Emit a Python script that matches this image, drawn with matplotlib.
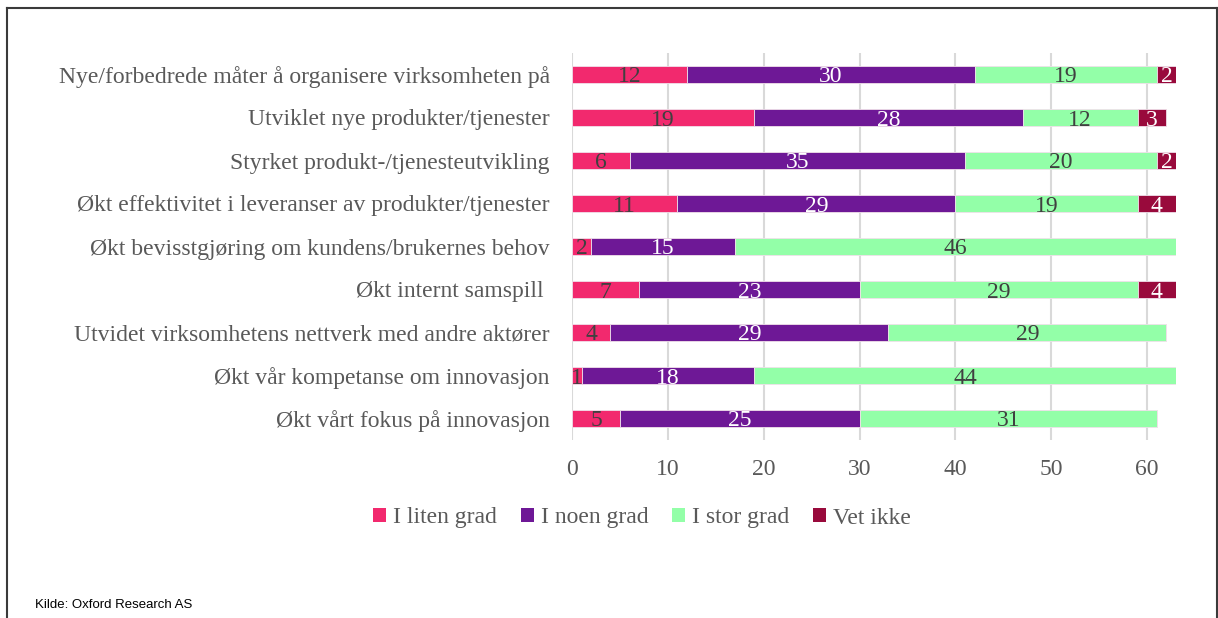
import numpy as np
import matplotlib.pyplot as plt
from matplotlib.patches import Patch
from matplotlib.lines import Line2D

categories = [
    "Nye/forbedrede måter å organisere virksomheten på",
    "Utviklet nye produkter/tjenester",
    "Styrket produkt-/tjenesteutvikling",
    "Økt effektivitet i leveranser av produkter/tjenester",
    "Økt bevisstgjøring om kundens/brukernes behov",
    "Økt internt samspill ",
    "Utvidet virksomhetens nettverk med andre aktører",
    "Økt vår kompetanse om innovasjon",
    "Økt vårt fokus på innovasjon",
]
liten = [12, 19, 6, 11, 2, 7, 4, 1, 5]
noen = [30, 28, 35, 29, 15, 23, 29, 18, 25]
stor = [19, 12, 20, 19, 46, 29, 29, 44, 31]
vet_ikke = [2, 3, 2, 4, 0, 4, 0, 0, 0]

series = [
    ("I liten grad", liten, "#F2296E", "#404040"),
    ("I noen grad", noen, "#6E1896", "white"),
    ("I stor grad", stor, "#93FFA8", "#404040"),
    ("Vet ikke", vet_ikke, "#990A3C", "white"),
]

plt.rcParams['font.family'] = ['Liberation Serif', 'DejaVu Serif']
TXT = "#595959"
FS = 17

fig = plt.figure(figsize=(12.18, 6.18), dpi=100)
ax = fig.add_axes([572 / 1218, 1 - 440 / 618, (1176 - 572) / 1218, 387 / 618])

y = np.arange(len(categories))
left = np.zeros(len(categories))
handles = []
for name, vals, color, tcolor in series:
    vals = np.array(vals, dtype=float)
    bars = ax.barh(y, vals, left=left, height=0.4, color=color,
                   edgecolor="#f0e0ea", linewidth=0.6)
    labels = [str(int(v)) if v > 0 else "" for v in vals]
    texts = ax.bar_label(bars, labels=labels, label_type="center", color=tcolor, fontsize=FS)
    for t in texts:
        t.set_va("center_baseline")
    left += vals
    handles.append(Patch(facecolor=color, label=name))

ax.set_xlim(0, 63)
ax.set_ylim(len(categories) - 0.5, -0.5)
ax.set_xticks(range(0, 61, 10))
ax.set_yticks(y)
ax.set_yticklabels(categories)
ax.tick_params(axis="y", length=0, pad=16, labelsize=FS, labelcolor=TXT)
ax.tick_params(axis="x", length=0, pad=14, labelsize=FS, labelcolor=TXT)
ax.grid(axis="x", color="#d9d9d9", linewidth=1.5)
ax.set_axisbelow(True)
for s in ax.spines.values():
    s.set_visible(False)

fig.legend(handles=handles, loc="center", bbox_to_anchor=(642 / 1218, 1 - 518 / 618),
           ncol=4, frameon=False, fontsize=FS, labelcolor=TXT,
           handlelength=0.55, handleheight=0.55, handletextpad=0.3, columnspacing=1.0)

fig.text(35 / 1218, 1 - 605 / 618, "Kilde: Oxford Research AS", fontsize=9.5,
         family=['Liberation Sans Narrow', 'Liberation Sans'], color="black", va="center")

# ramme rundt figuren
x0, x1, y0 = 7 / 1218, 1217 / 1218, 1 - 8 / 618
for xs, ys in [([x0, x0], [0, y0]), ([x0, x1], [y0, y0]), ([x1, x1], [y0, 0])]:
    fig.add_artist(Line2D(xs, ys, transform=fig.transFigure, color="#3a3a3a", linewidth=1.5))

fig.savefig("out.png", dpi=100)
